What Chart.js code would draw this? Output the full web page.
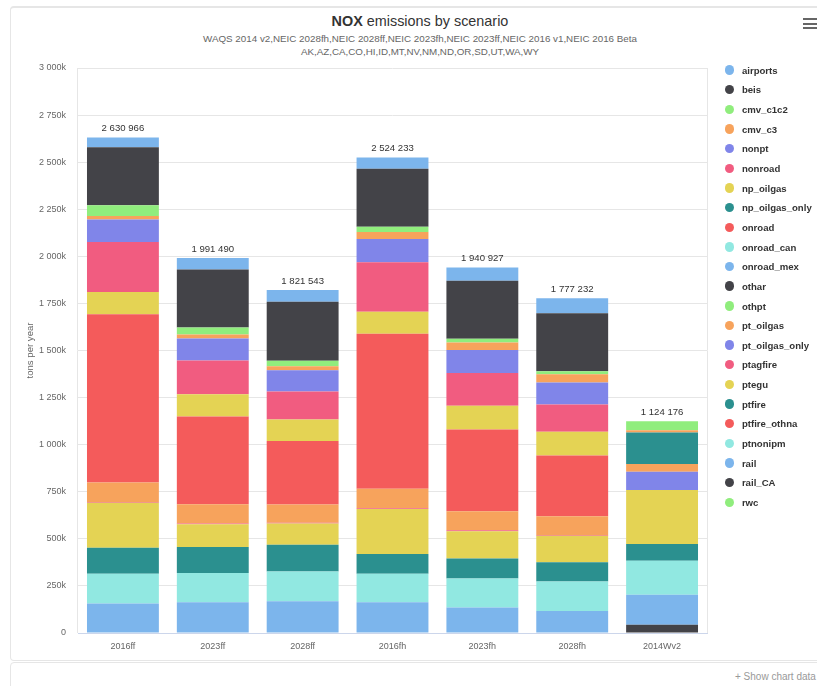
<!DOCTYPE html>
<html>
<head>
<meta charset="utf-8">
<script src="https://cdn.jsdelivr.net/npm/chart.js@4.4.1/dist/chart.umd.min.js"></script>
<style>
  html, body { margin: 0; padding: 0; background: #fff; overflow: hidden; }
  body { width: 817px; height: 686px; position: relative; font-family: "Liberation Sans", Arial, sans-serif; }
  #frame { position: absolute; left: 10px; top: 6px; width: 900px; height: 652px; border: 1px solid #e6e6e6; border-top-width: 2px; border-radius: 4px; }
  #frame2 { position: absolute; left: 10px; top: 662px; width: 900px; height: 60px; border: 1px solid #e6e6e6; border-radius: 4px; }
  #title { position: absolute; left: 10px; width: 820px; top: 13px; text-align: center; font-size: 14.4px; color: #333; }
  #subtitle { position: absolute; left: 10px; width: 820px; top: 32px; text-align: center; font-size: 9.8px; line-height: 13px; color: #666; }
  #menu { position: absolute; left: 803px; top: 18px; width: 16px; }
  #menu div { height: 2px; background: #666; margin-bottom: 2.5px; }
  #box { position: absolute; left: 0; top: 0; width: 817px; height: 660px; }
  #legend { position: absolute; left: 0; top: 0; }
  .item { position: absolute; left: 725px; height: 14px; line-height: 14px; font-size: 9.6px; font-weight: bold; color: #333; white-space: nowrap; }
  .dot { display: inline-block; width: 9.4px; height: 9.4px; border-radius: 50%; vertical-align: -1px; margin-right: 7.5px; }
  #showdata { position: absolute; left: 735px; top: 671px; font-size: 10px; color: #999; white-space: nowrap; }
</style>
</head>
<body>
<div id="frame"></div>
<div id="frame2"></div>
<div id="title"><b>NOX</b> emissions by scenario</div>
<div id="subtitle">WAQS 2014 v2,NEIC 2028fh,NEIC 2028ff,NEIC 2023fh,NEIC 2023ff,NEIC 2016 v1,NEIC 2016 Beta<br>AK,AZ,CA,CO,HI,ID,MT,NV,NM,ND,OR,SD,UT,WA,WY</div>
<div id="menu"><div></div><div></div><div></div></div>
<div id="box"><canvas id="chart"></canvas></div>
<div id="legend"></div>
<div id="showdata">+ Show chart data</div>
<script>
// scenarios on the x axis
const scenarios = ['2016ff', '2023ff', '2028ff', '2016fh', '2023fh', '2028fh', '2014Wv2'];
// stack totals printed above each bar
const totals = [2630966, 1991490, 1821543, 2524233, 1940927, 1777232, 1124176];

// sectors, top of stack first (legend order)
const sectors = ['airports', 'beis', 'cmv_c1c2', 'cmv_c3', 'nonpt', 'nonroad', 'np_oilgas', 'np_oilgas_only',
  'onroad', 'onroad_can', 'onroad_mex', 'othar', 'othpt', 'pt_oilgas', 'pt_oilgas_only', 'ptagfire', 'ptegu',
  'ptfire', 'ptfire_othna', 'ptnonipm', 'rail', 'rail_CA', 'rwc'];
const palette = ['#7cb5ec', '#434348', '#90ed7d', '#f7a35c', '#8085e9', '#f15c80', '#e4d354', '#2b908f', '#f45b5b', '#91e8e1'];

// tons per year, one value per scenario
const airports       = [51966, 61490, 62543, 59233, 69927, 79232, 0];
const beis           = [308000, 308000, 313000, 308000, 308000, 308000, 0];
const cmv_c1c2       = [57000, 37000, 30000, 28000, 21000, 16000, 48176];
const cmv_c3         = [18000, 21000, 21000, 37000, 39000, 44000, 12000];
const nonpt          = [120000, 117000, 113000, 124000, 122000, 117000, 0];
const nonroad        = [266000, 179000, 149000, 262000, 175000, 145000, 0];
const np_oilgas      = [117000, 119000, 113000, 117000, 126000, 126000, 0];
const np_oilgas_only = [0, 0, 0, 0, 0, 0, 166000];
const onroad         = [894000, 466000, 338000, 823000, 434000, 322000, 0];
const onroad_can     = [0, 0, 0, 0, 0, 0, 0];
const onroad_mex     = [0, 0, 0, 0, 0, 0, 0];
const othar          = [0, 0, 0, 0, 0, 0, 0];
const othpt          = [0, 0, 0, 0, 0, 0, 0];
const pt_oilgas      = [103000, 101000, 96000, 103000, 101000, 99000, 42000];
const pt_oilgas_only = [0, 0, 0, 0, 0, 0, 97000];
const ptagfire       = [5000, 5000, 5000, 5000, 5000, 5000, 0];
const ptegu          = [239000, 120000, 112000, 239000, 145000, 140000, 287000];
const ptfire         = [138000, 138000, 142000, 104000, 106000, 103000, 88000];
const ptfire_othna   = [0, 0, 0, 0, 0, 0, 0];
const ptnonipm       = [158000, 156000, 159000, 152000, 154000, 156000, 181000];
const rail           = [156000, 163000, 168000, 163000, 135000, 117000, 159000];
const rail_CA        = [0, 0, 0, 0, 0, 0, 44000];
const rwc            = [0, 0, 0, 0, 0, 0, 0];

const seriesData = [airports, beis, cmv_c1c2, cmv_c3, nonpt, nonroad, np_oilgas, np_oilgas_only,
  onroad, onroad_can, onroad_mex, othar, othpt, pt_oilgas, pt_oilgas_only, ptagfire, ptegu,
  ptfire, ptfire_othna, ptnonipm, rail, rail_CA, rwc];

function spaced(n) {
  return String(n).replace(/\B(?=(\d{3})+(?!\d))/g, ' ');
}

const FONT = '"Liberation Sans", Arial, sans-serif';
Chart.defaults.font.family = FONT;

// legend, drawn as html
const legend = document.getElementById('legend');
sectors.forEach((name, i) => {
  const el = document.createElement('div');
  el.className = 'item';
  el.style.top = (70.7 + i * 19.65 - 7) + 'px';
  el.innerHTML = '<span class="dot" style="background:' + palette[i % 10] + '"></span>' + name;
  legend.appendChild(el);
});

// build datasets bottom-up so airports ends on top
const datasets = sectors.map((name, i) => ({
  label: name,
  data: seriesData[i],
  backgroundColor: palette[i % 10],
  borderWidth: 0
})).reverse();

const plotFrame = {
  id: 'plotFrame',
  beforeDatasetsDraw(chart) {
    const {ctx, chartArea: a} = chart;
    ctx.save();
    ctx.strokeStyle = '#e6e6e6';
    ctx.lineWidth = 1;
    ctx.beginPath();
    ctx.moveTo(Math.round(a.left) - 0.5, a.top);
    ctx.lineTo(Math.round(a.left) - 0.5, a.bottom);
    ctx.moveTo(Math.round(a.right) + 0.5, a.top);
    ctx.lineTo(Math.round(a.right) + 0.5, a.bottom);
    ctx.stroke();
    ctx.restore();
  }
};

const totalLabels = {
  id: 'totalLabels',
  afterDatasetsDraw(chart) {
    const {ctx, scales: {x, y}} = chart;
    ctx.save();
    ctx.font = '9.6px ' + FONT;
    ctx.fillStyle = '#333';
    ctx.textAlign = 'center';
    ctx.textBaseline = 'middle';
    totals.forEach((t, i) => {
      ctx.fillText(spaced(t), x.getPixelForValue(i), y.getPixelForValue(t) - 9);
    });
    ctx.restore();
  }
};

new Chart(document.getElementById('chart'), {
  type: 'bar',
  data: { labels: scenarios, datasets: datasets },
  options: {
    responsive: true,
    maintainAspectRatio: false,
    animation: false,
    layout: { padding: { top: 68, right: 110, left: 0, bottom: 0 } },
    datasets: { bar: { categoryPercentage: 0.8, barPercentage: 1 } },
    plugins: {
      legend: { display: false },
      tooltip: { enabled: false }
    },
    scales: {
      x: {
        stacked: true,
        grid: { display: false },
        border: { color: '#ccd6eb' },
        ticks: { color: '#666', font: { size: 9 }, padding: 0, maxRotation: 0 },
        afterFit: (s) => { s.height = 27; }
      },
      y: {
        stacked: true,
        min: 0,
        max: 3000000,
        grid: { color: '#e6e6e6', drawTicks: false },
        border: { display: false },
        ticks: {
          stepSize: 250000,
          color: '#666',
          font: { size: 9 },
          padding: 12,
          callback: (v) => v === 0 ? '0' : spaced(v / 1000) + 'k'
        },
        title: {
          display: true,
          text: 'tons per year',
          color: '#666',
          font: { size: 9.6 },
          padding: { top: 25, bottom: 0 }
        },
        afterFit: (s) => { s.width = 78; }
      }
    }
  },
  plugins: [plotFrame, totalLabels]
});
</script>
</body>
</html>
